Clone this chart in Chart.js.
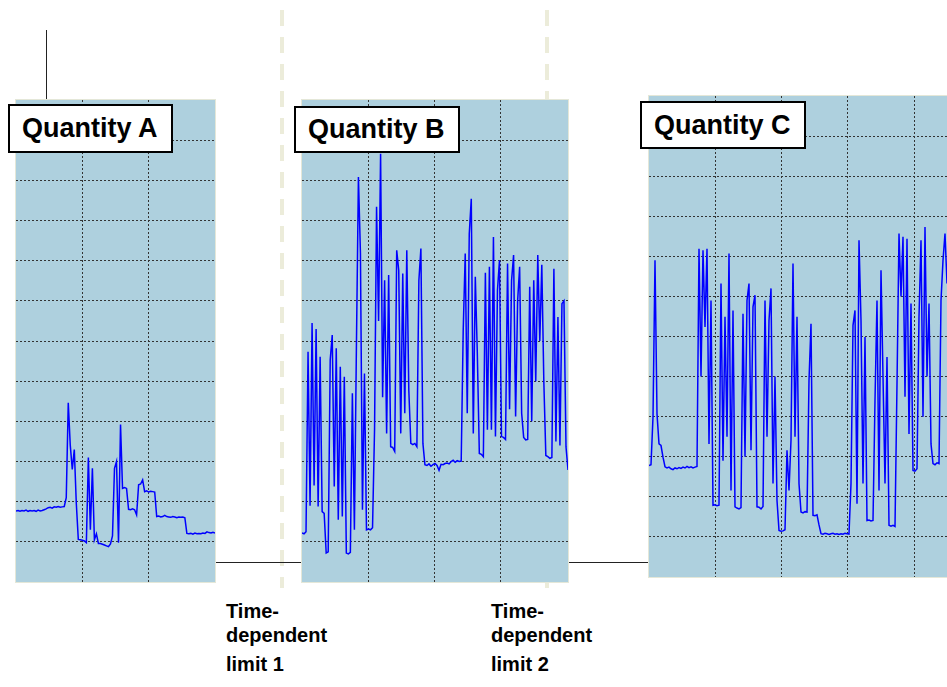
<!DOCTYPE html>
<html>
<head>
<meta charset="utf-8">
<script src="https://cdn.jsdelivr.net/npm/chart.js@4.4.0/dist/chart.umd.min.js"></script>
<style>
html, body { margin:0; padding:0; width:947px; height:687px; overflow:hidden; background:#fff; font-family:"Liberation Sans", Arial, sans-serif; }
.panel { position:absolute; background:#AED0DE; box-shadow:0 0 0 1px #E4E7D8; }
.panel canvas { display:block; }
.qbox { position:absolute; box-sizing:border-box; background:#fff; border:2px solid #000; padding-left:12px; font-weight:bold; font-size:27px; color:#000; white-space:nowrap; }
.limit { position:absolute; top:10px; width:4px; height:578px; background:repeating-linear-gradient(to bottom, #ECECDA 0 16px, transparent 16px 27px); }
.wire { position:absolute; background:#222; }
.note { position:absolute; font-weight:bold; font-size:20px; line-height:20px; color:#000; white-space:nowrap; }
</style>
</head>
<body>

<div class="limit" style="left:280px"></div>
<div class="limit" style="left:545px"></div>

<div class="wire" style="left:46px; top:30px; width:1px; height:70px"></div>
<div class="wire" style="left:214px; top:562px; width:88px; height:1px"></div>
<div class="wire" style="left:567px; top:562px; width:82px; height:1px"></div>

<div class="panel" style="left:16px; top:100px"><canvas id="chartA" width="199" height="482"></canvas></div>
<div class="panel" style="left:302px; top:100px"><canvas id="chartB" width="266" height="482"></canvas></div>
<div class="panel" style="left:649px; top:96px"><canvas id="chartC" width="298" height="481"></canvas></div>

<div class="qbox" id="boxA" style="left:8px; top:104px; width:165px; height:49px; line-height:45px"></div>
<div class="qbox" id="boxB" style="left:294px; top:106px; width:166px; height:47px; line-height:43px"></div>
<div class="qbox" id="boxC" style="left:640px; top:101px; width:166px; height:48px; line-height:44px"></div>

<div class="note" style="left:226px; top:601px">Time-</div>
<div class="note" style="left:226px; top:625px">dependent</div>
<div class="note" style="left:226px; top:654px">limit 1</div>
<div class="note" style="left:491px; top:601px">Time-</div>
<div class="note" style="left:491px; top:625px">dependent</div>
<div class="note" style="left:491px; top:654px">limit 2</div>

<script>
// ---------- data (grid divisions, bottom edge = 0) ----------

const seriesNames = ['Quantity A', 'Quantity B', 'Quantity C'];
const gridRows = 12;

const quantityA = [
  1.77, 1.78, 1.76, 1.78, 1.77, 1.79, 1.76, 1.78, 1.77, 1.78, 1.76, 1.79, 1.77, 1.78, 1.80, 1.82,
  1.85, 1.86, 1.84, 1.87, 1.86, 1.88, 1.86, 1.87, 1.88,
  2.1,
  4.46, 3.4, 2.8, 3.3, 1.96, 1.06,
  1.05, 1.04, 1.02, 0.98,
  3.1, 1.3, 2.83, 1.05, 1.2, 0.96,
  0.96, 0.94, 0.92, 0.90, 0.88,
  0.95, 1.15, 2.83, 3.0, 0.98, 3.92, 2.33, 2.35, 2.33,
  1.81, 1.80, 1.82, 1.80, 1.67,
  2.42, 2.44, 2.54,
  2.25, 2.27, 2.24, 2.26, 2.25, 2.24,
  1.63,
  1.64, 1.62, 1.63, 1.66, 1.63, 1.62, 1.61, 1.63, 1.62, 1.60, 1.62, 1.61, 1.62, 1.60,
  1.21,
  1.20, 1.21, 1.19, 1.22, 1.20, 1.21, 1.20, 1.22, 1.21, 1.25, 1.23, 1.22, 1.24, 1.22
];

const quantityB = [
  1.22, 1.20, 1.25, 5.73, 1.9, 6.45, 2.4, 6.3, 1.88, 5.61,
  1.75, 1.71, 0.72, 0.75, 5.53, 6.15, 2.38, 5.82, 1.55, 5.36,
  1.63, 5.11, 0.72, 0.70, 0.74, 4.7, 1.3, 5.86, 10.08, 8.18,
  1.8, 5.19, 1.3, 1.32, 1.3, 1.35, 3.79, 9.34, 6.5, 10.66,
  4.6, 7.51, 3.7, 7.64, 3.37, 3.35, 3.25, 8.26, 7.76, 3.7,
  7.68, 4.2, 8.26, 4.78, 3.45, 3.42, 3.45, 3.37, 7.51, 8.3,
  3.45, 2.92, 2.90, 2.94, 2.88, 2.92, 2.95, 2.90, 2.78, 2.93,
  2.92, 2.95, 2.96, 2.94, 3.0, 3.03, 2.98, 3.02, 3.0, 3.01,
  6.27, 8.18, 4.2, 8.67, 9.54, 3.7, 7.6, 5.69, 3.2, 3.18,
  3.12, 7.7, 3.79, 7.85, 3.79, 8.59, 3.62, 7.27, 8.01, 3.62,
  3.6, 3.55, 7.93, 4.3, 7.51, 8.14, 4.12, 7.0, 7.85, 4.2,
  3.6, 3.54, 3.55, 7.35, 4.0, 7.51, 5.0, 8.14, 6.0, 7.9,
  5.0, 3.15, 3.12, 3.08, 3.1, 7.8, 3.5, 6.6, 3.4, 6.93,
  7.0, 3.37, 2.79
];

const quantityC = [
  2.78, 2.80, 3.99, 7.9, 4.07, 3.32, 3.28, 2.99, 2.75, 2.72,
  2.74, 2.70, 2.68, 2.72, 2.70, 2.73, 2.71, 2.74, 2.72, 2.76,
  2.73, 2.75, 2.72, 2.74, 2.76, 8.19, 5.0, 8.15, 6.24, 8.19,
  3.32, 6.9, 1.79, 1.80, 1.78, 1.79, 7.32, 2.9, 6.49, 3.5,
  8.07, 2.16, 6.65, 1.75, 1.72, 1.70, 1.73, 6.57, 3.0, 6.9,
  7.32, 3.16, 6.74, 7.03, 1.75, 1.74, 1.70, 1.76, 6.9, 3.5,
  6.4, 7.2, 2.33, 5.0, 1.91, 1.16, 1.14, 1.15, 1.18, 3.16,
  2.16, 3.41, 7.82, 3.5, 6.49, 2.33, 1.62, 1.60, 1.63, 1.62,
  4.91, 6.32, 1.54, 1.53, 1.55, 1.30, 1.08, 1.07, 1.09, 1.08,
  1.06, 1.08, 1.09, 1.07, 1.08, 1.06, 1.08, 1.07, 1.09, 1.08,
  1.07, 2.33, 6.28, 6.65, 1.83, 8.4, 6.4, 2.33, 5.99, 1.41,
  1.42, 1.40, 1.41, 4.41, 6.9, 2.16, 7.65, 5.0, 2.33, 5.49,
  1.29, 1.27, 1.29, 1.26, 4.82, 8.57, 7.0, 8.49, 4.5, 8.44,
  3.57, 6.82, 2.66, 2.64, 2.70, 6.49, 8.4, 4.0, 8.73, 5.0,
  6.82, 3.32, 2.83, 2.80, 2.85, 2.83, 6.9, 7.9, 8.57, 7.32
];

// ---------- drawing ----------

const COL_PX = 66.3;   // width of one grid column on screen

// keep only the inner grid lines, edges of the panel stay clean
function innerTicks(step) {
  return (scale) => {
    const t = [];
    for (let v = step; v < scale.max - step * 0.1; v += step) t.push({ value: v });
    scale.ticks = t;
  };
}

function makeChart(id, values) {
  const canvas = document.getElementById(id);
  const last = values.length - 1;
  const colStep = COL_PX * last / canvas.width;

  return new Chart(canvas, {
    type: 'line',
    data: {
      labels: values.map((v, i) => i),
      datasets: [{
        data: values,
        borderColor: '#0000FF',
        borderWidth: 1.5,
        pointRadius: 0,
        tension: 0,
        fill: false
      }]
    },
    options: {
      responsive: false,
      animation: false,
      events: [],
      layout: { padding: 0 },
      plugins: { legend: { display: false }, tooltip: { enabled: false } },
      scales: {
        x: {
          type: 'linear', min: 0, max: last,
          ticks: { display: false },
          grid: { color: '#333', lineWidth: 1, drawTicks: false },
          border: { display: false, dash: [2, 2] },
          afterBuildTicks: innerTicks(colStep)
        },
        y: {
          min: 0, max: gridRows,
          ticks: { display: false },
          grid: { color: '#333', lineWidth: 1, drawTicks: false },
          border: { display: false, dash: [2, 2] },
          afterBuildTicks: innerTicks(1)
        }
      }
    }
  });
}

makeChart('chartA', quantityA);
makeChart('chartB', quantityB);
makeChart('chartC', quantityC);

document.getElementById('boxA').textContent = seriesNames[0];
document.getElementById('boxB').textContent = seriesNames[1];
document.getElementById('boxC').textContent = seriesNames[2];
</script>
</body>
</html>
